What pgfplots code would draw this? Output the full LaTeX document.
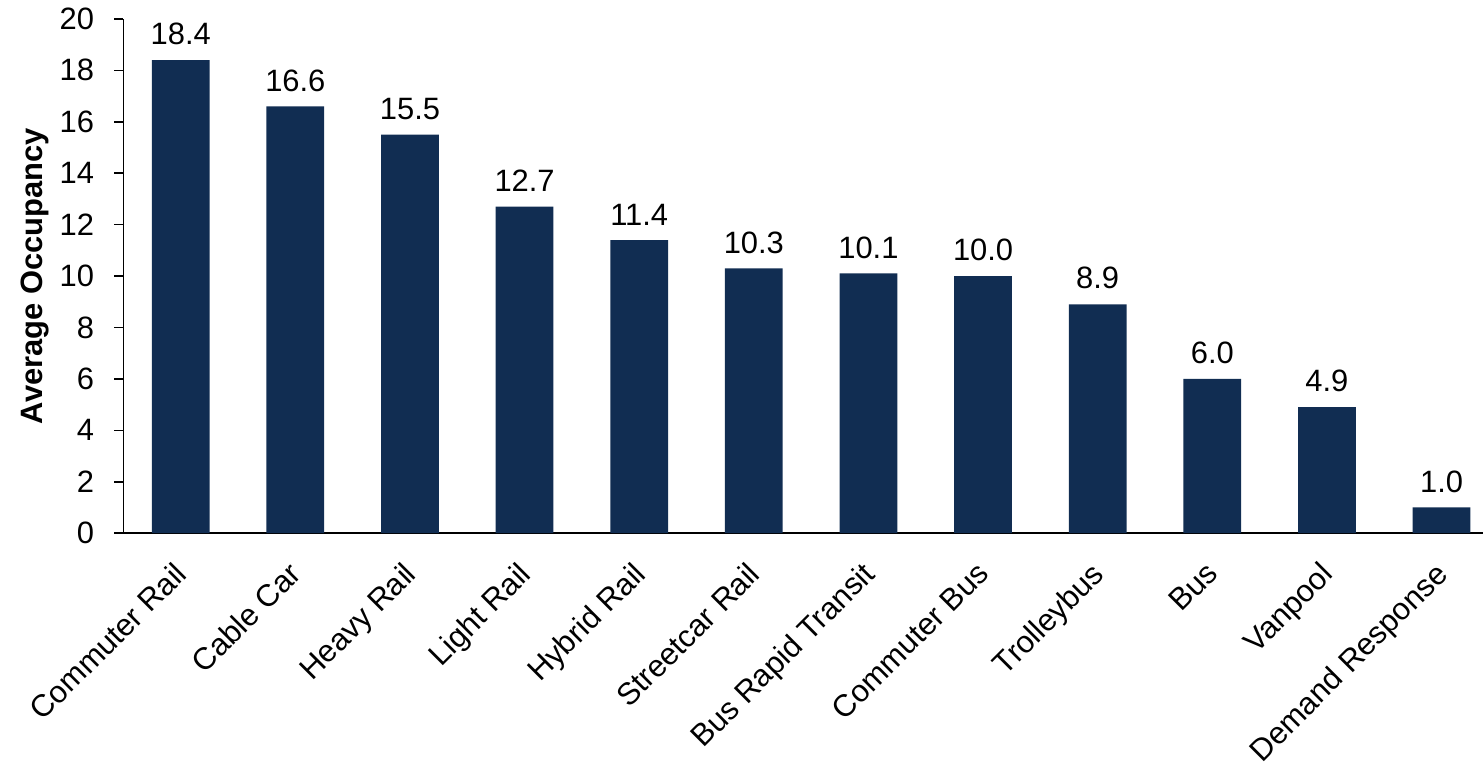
\documentclass[border=0pt]{standalone}
\usepackage{pgfplots}
\pgfplotsset{compat=1.18}
\usepackage{fontspec}
\setmainfont{Liberation Sans}
\definecolor{navy}{HTML}{112D52}
\begin{document}
\begin{tikzpicture}
\begin{axis}[
  scale only axis,
  width=682pt, height=258pt,
  xmin=-0.5, xmax=11.36,
  ymin=0, ymax=20,
  ytick={0,2,...,20},
  xtick={0,...,11},
  xticklabels={Commuter Rail,Cable Car,Heavy Rail,Light Rail,Hybrid Rail,Streetcar Rail,Bus Rapid Transit,Commuter Bus,Trolleybus,Bus,Vanpool,Demand Response},
  x tick label style={xshift=-4pt, yshift=-6pt, rotate=45, anchor=north east, inner sep=2pt, font=\fontsize{15.5}{17}\selectfont},
  y tick label style={font=\fontsize{15.5}{17}\selectfont, inner sep=4pt, xshift=-6pt},
  /pgf/number format/assume math mode=true,
  axis x line*=bottom, axis y line*=left,
  x axis line style={line width=1.2pt, -},
  y axis line style={line width=0.8pt, -},
  major x tick style={draw=none},
  ytick style={line width=0.8pt, black},
  tick align=outside,
  major tick length=4.5pt,
  ylabel={\bfseries Average Occupancy},
  ylabel style={font=\fontsize{15.5}{17}\selectfont, yshift=-2pt},
  nodes near coords,
  nodes near coords style={font=\fontsize{15.5}{17}\selectfont, yshift=4pt, /pgf/number format/.cd, fixed, fixed zerofill, precision=1, assume math mode=true},
  point meta=explicit,
  clip=false,
]
\addplot[ybar, bar width=29pt, fill=navy, draw=none] table[x=x, y=y, meta=y] {
x y
0 18.4
1 16.6
2 15.5
3 12.7
4 11.4
5 10.3
6 10.1
7 10.0
8 8.9
9 6.0
10 4.9
11 1.0
};
\end{axis}
\path (current bounding box.south west) ++(-7pt,-4pt);
\end{tikzpicture}
\end{document}
